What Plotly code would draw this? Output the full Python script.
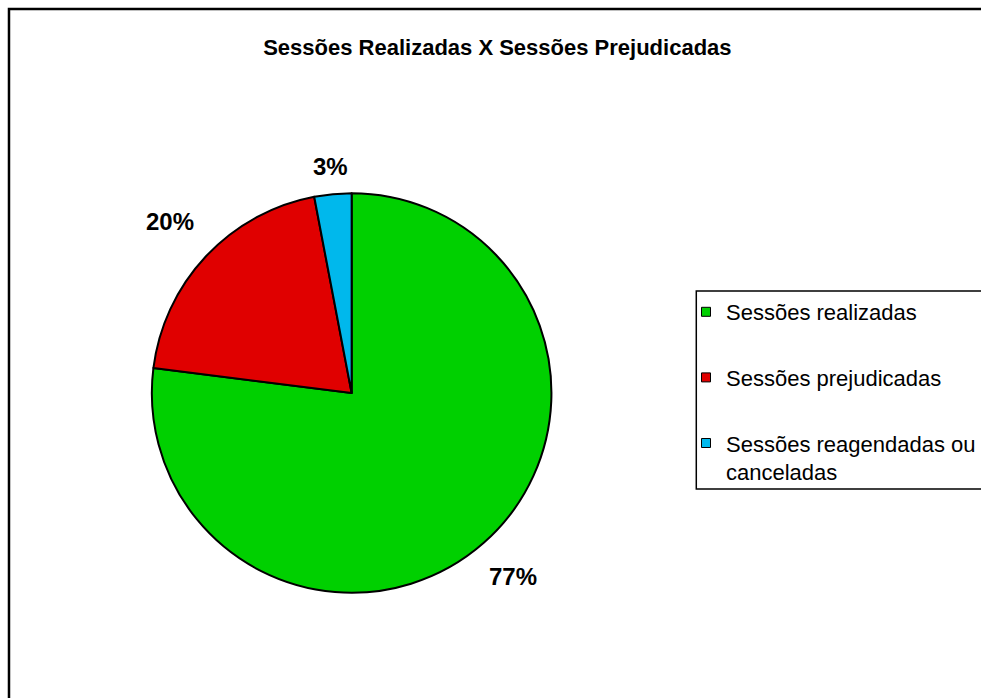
import math
import plotly.graph_objects as go

W, H = 981, 698

title_text = "Sessões Realizadas X Sessões Prejudicadas"
categories = ["Sessões realizadas", "Sessões prejudicadas", "Sessões reagendadas ou<br>canceladas"]
values = [77, 20, 3]
colors = ["#00D000", "#E00000", "#00B8EC"]

FONT = "Arial, Liberation Sans, sans-serif"

# pie geometry in pixels
cx, cy, R = 352, 393, 200
dom_x = [(cx - R) / W, (cx + R) / W]
dom_y = [(H - (cy + R)) / H, (H - (cy - R)) / H]

fig = go.Figure()
fig.add_trace(go.Pie(
    labels=categories,
    values=values,
    sort=False,
    direction="clockwise",
    rotation=0,
    marker=dict(colors=colors, line=dict(color="black", width=2)),
    textinfo="none",
    hoverinfo="label+percent",
    showlegend=False,
    domain=dict(x=dom_x, y=dom_y),
))

# legend entries
for i, (name, col) in enumerate(zip(categories, colors)):
    fig.add_trace(go.Scatter(
        x=[None], y=[None], mode="markers", name=name,
        legendgroup=f"g{i}",
        marker=dict(symbol="square", size=9, color=col, line=dict(color="black", width=1)),
    ))

# percentage labels placed outside each slice
total = sum(values)
cum = 0
annotations = []
label_dist = [1.22, 1.25, 1.14]
for v, d in zip(values, label_dist):
    mid = (cum + v / 2) / total * 2 * math.pi
    cum += v
    px = cx + d * R * math.sin(mid)
    py = cy - d * R * math.cos(mid)
    annotations.append(dict(
        x=px / W, y=1 - py / H, xref="paper", yref="paper",
        text=f"<b>{round(v / total * 100)}%</b>", showarrow=False,
        font=dict(family=FONT, size=24, color="black"),
        xanchor="center", yanchor="middle",
    ))

shapes = [
    dict(type="rect", xref="paper", yref="paper",
         x0=9 / W, x1=1.05, y0=-0.05, y1=1 - 9 / H,
         line=dict(color="black", width=2.5), fillcolor="rgba(0,0,0,0)"),
    dict(type="rect", xref="paper", yref="paper",
         x0=697 / W, x1=1.05, y0=1 - 489 / H, y1=1 - 291 / H,
         line=dict(color="black", width=1.5), fillcolor="rgba(0,0,0,0)"),
]

fig.update_layout(
    width=W, height=H,
    margin=dict(l=0, r=0, t=0, b=0),
    paper_bgcolor="white", plot_bgcolor="white",
    title=dict(text=f"<b>{title_text}</b>", x=0.507, xanchor="center",
               y=1 - 47 / H, yanchor="middle",
               font=dict(family=FONT, size=22, color="black")),
    xaxis=dict(visible=False), yaxis=dict(visible=False),
    showlegend=True,
    legend=dict(x=687 / W, xanchor="left", y=1 - 291 / H, yanchor="top",
                font=dict(family=FONT, size=22, color="black"),
                tracegroupgap=34, valign="top", borderwidth=0,
                bgcolor="rgba(0,0,0,0)"),
    annotations=annotations,
    shapes=shapes,
)

fig.write_html("out.html")
